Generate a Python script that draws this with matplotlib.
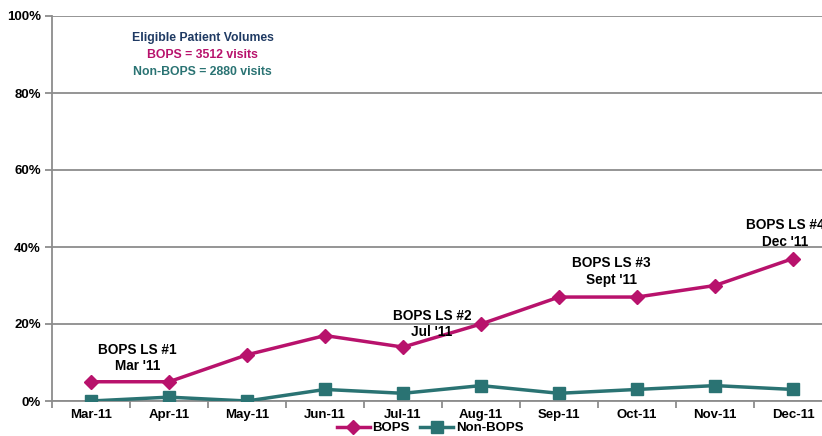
import numpy as np
import matplotlib.pyplot as plt
from matplotlib.ticker import FixedLocator

months = ['Mar-11', 'Apr-11', 'May-11', 'Jun-11', 'Jul-11', 'Aug-11',
          'Sep-11', 'Oct-11', 'Nov-11', 'Dec-11']
bops = [5, 5, 12, 17, 14, 20, 27, 27, 30, 37]
non_bops = [0, 1, 0, 3, 2, 4, 2, 3, 4, 3]
yticks = [0, 20, 40, 60, 80, 100]

ls_labels = ["BOPS LS #1\nMar '11", "BOPS LS #2\nJul '11",
             "BOPS LS #3\nSept '11", "BOPS LS #4\nDec '11"]
ls_pos = [(0.6, 11.2), (4.37, 20.0), (6.67, 33.6), (8.9, 43.5)]

pink = '#B8126C'
teal = '#2A7373'

plt.rcParams['font.family'] = ['Liberation Sans', 'DejaVu Sans']

fig = plt.figure(figsize=(8.22, 4.36), dpi=100)
ax = fig.add_axes([52/822, 35/436, 780/822, 385/436])

x = np.arange(len(months))
ax.plot(x, bops, color=pink, lw=2.5, marker='D', ms=7, label='BOPS', zorder=3)
ax.plot(x, non_bops, color=teal, lw=2.5, marker='s', ms=8, label='Non-BOPS', zorder=3)

ax.set_xlim(-0.5, len(months) - 0.5)
ax.set_ylim(0, 100)
ax.set_yticks(yticks)
ax.set_yticklabels([f'{v}%' for v in yticks], fontweight='bold', fontsize=9.5)
ax.yaxis.grid(True, color='#8c8c8c', lw=1.3)
ax.set_axisbelow(True)

ax.set_xticks(x)
ax.set_xticklabels(months, fontweight='bold', fontsize=9.5)
ax.tick_params(axis='x', which='major', length=0, pad=6)
ax.xaxis.set_minor_locator(FixedLocator(np.arange(-0.5, len(months), 1)))
ax.tick_params(axis='x', which='minor', length=5, color='#8c8c8c', width=1.3)
ax.tick_params(axis='y', length=5, color='#8c8c8c', width=1.3, pad=3)

for s in ['top', 'right']:
    ax.spines[s].set_visible(False)
for s in ['left', 'bottom']:
    ax.spines[s].set_color('#8c8c8c')
    ax.spines[s].set_linewidth(1.3)

for lab, (px, py) in zip(ls_labels, ls_pos):
    ax.text(px, py, lab, ha='center', va='center', fontsize=9.8,
            fontweight='bold', linespacing=1.25)

ax.text(1.43, 94.2, 'Eligible Patient Volumes', ha='center', va='center',
        fontsize=8.8, fontweight='bold', color='#1F3A63')
ax.text(1.43, 89.8, 'BOPS = 3512 visits', ha='center', va='center',
        fontsize=8.8, fontweight='bold', color=pink)
ax.text(1.43, 85.4, 'Non-BOPS = 2880 visits', ha='center', va='center',
        fontsize=8.8, fontweight='bold', color=teal)

fig.legend(loc='center', bbox_to_anchor=(430/822, 1 - 428/436), ncol=2,
           frameon=False, handlelength=2.5, columnspacing=0.8,
           handletextpad=0.2, borderpad=0, prop={'weight': 'bold', 'size': 9.5})

fig.savefig('out.png', dpi=100)
